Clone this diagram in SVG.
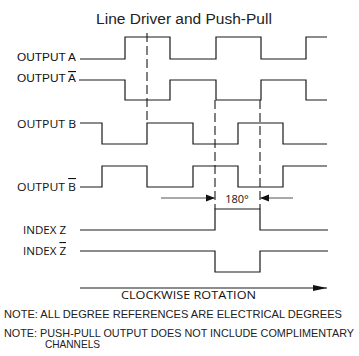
<svg xmlns="http://www.w3.org/2000/svg" width="359" height="356" viewBox="0 0 359 356">
<defs>
<style>
.sig{fill:none;stroke:#1a1a1a;stroke-width:1.2}
.dash{fill:none;stroke:#1a1a1a;stroke-width:1.1;stroke-dasharray:9,4}
.dim{fill:none;stroke:#555;stroke-width:1.1}
.lbl{font-family:"Liberation Sans",Arial,sans-serif;font-size:11.5px;fill:#111}
.lbl2{font-family:"Open Sans","Liberation Sans",sans-serif;font-size:11px;fill:#111}
.note{font-family:"Liberation Sans",Arial,sans-serif;font-size:10.5px;fill:#222}
.title{font-family:"Liberation Sans",Arial,sans-serif;font-size:15.5px;fill:#222}
.ol{text-decoration:overline}
</style>
<marker id="ah" markerWidth="10" markerHeight="8" refX="9" refY="4" orient="auto" markerUnits="userSpaceOnUse">
<path d="M0,0.5 L9,4 L0,7.5 Z" fill="#111"/>
</marker>
<marker id="ah2" markerWidth="15" markerHeight="8" refX="14" refY="4" orient="auto" markerUnits="userSpaceOnUse">
<path d="M0,1 L14,4 L0,7 Z" fill="#111"/>
</marker>
</defs>
<rect width="359" height="356" fill="#fff"/>
<text class="title" x="184" y="24" text-anchor="middle">Line Driver and Push-Pull</text>
<g id="outA"><text class="lbl" x="17" y="61" textLength="59" lengthAdjust="spacingAndGlyphs">OUTPUT A</text>
<path class="sig" d="M80,59 H125 V37 H170 V59 H216 V37 H261 V59 H306 V37 H327"/></g>
<g id="outAbar"><text class="lbl" x="17" y="82" textLength="59" lengthAdjust="spacingAndGlyphs">OUTPUT <tspan class="ol">A</tspan></text>
<path class="sig" d="M79,80 H125 V100 H170 V80 H216 V100 H261 V80 H306 V100 H327"/></g>
<g id="outB"><text class="lbl2" x="17" y="128" textLength="59" lengthAdjust="spacingAndGlyphs">OUTPUT B</text>
<path class="sig" d="M80,123 H102 V144 H147 V123 H193 V144 H238 V123 H283 V144 H327"/></g>
<g id="outBbar"><text class="lbl2" x="17" y="191" textLength="59" lengthAdjust="spacingAndGlyphs">OUTPUT <tspan class="ol">B</tspan></text>
<path class="sig" d="M80,187 H102 V166 H147 V187 H193 V166 H238 V187 H283 V166 H327"/></g>
<g id="indexZ"><text class="lbl2" x="23" y="234" textLength="43" lengthAdjust="spacingAndGlyphs">INDEX Z</text>
<path class="sig" d="M80,230 H215 V209 H260 V230 H328"/></g>
<g id="indexZbar"><text class="lbl2" x="23" y="255" textLength="43" lengthAdjust="spacingAndGlyphs">INDEX <tspan class="ol">Z</tspan></text>
<path class="sig" d="M80,251 H215 V272 H260 V251 H328"/></g>
<g id="connectors">
<line class="dash" x1="147" y1="33" x2="147" y2="123"/>
<line class="dash" x1="215" y1="100" x2="215" y2="209"/>
<line class="dash" x1="260" y1="100" x2="260" y2="209"/>
<line class="dim" x1="161" y1="198" x2="215" y2="198" marker-end="url(#ah)"/>
<line class="dim" x1="293" y1="198" x2="260" y2="198" marker-end="url(#ah)"/>
<line class="sig" x1="80" y1="288" x2="327" y2="288" marker-end="url(#ah2)"/>
</g>
<text class="lbl2" x="237" y="203" text-anchor="middle">180°</text>
<text class="lbl2" x="121" y="299" textLength="135" lengthAdjust="spacingAndGlyphs">CLOCKWISE  ROTATION</text>
<text class="note" x="4" y="318" textLength="338" lengthAdjust="spacingAndGlyphs">NOTE: ALL DEGREE REFERENCES ARE ELECTRICAL DEGREES</text>
<text class="note" x="4" y="337" textLength="350" lengthAdjust="spacingAndGlyphs">NOTE: PUSH-PULL OUTPUT DOES NOT INCLUDE COMPLIMENTARY</text>
<text class="note" x="45" y="348" textLength="55" lengthAdjust="spacingAndGlyphs">CHANNELS</text>
</svg>
